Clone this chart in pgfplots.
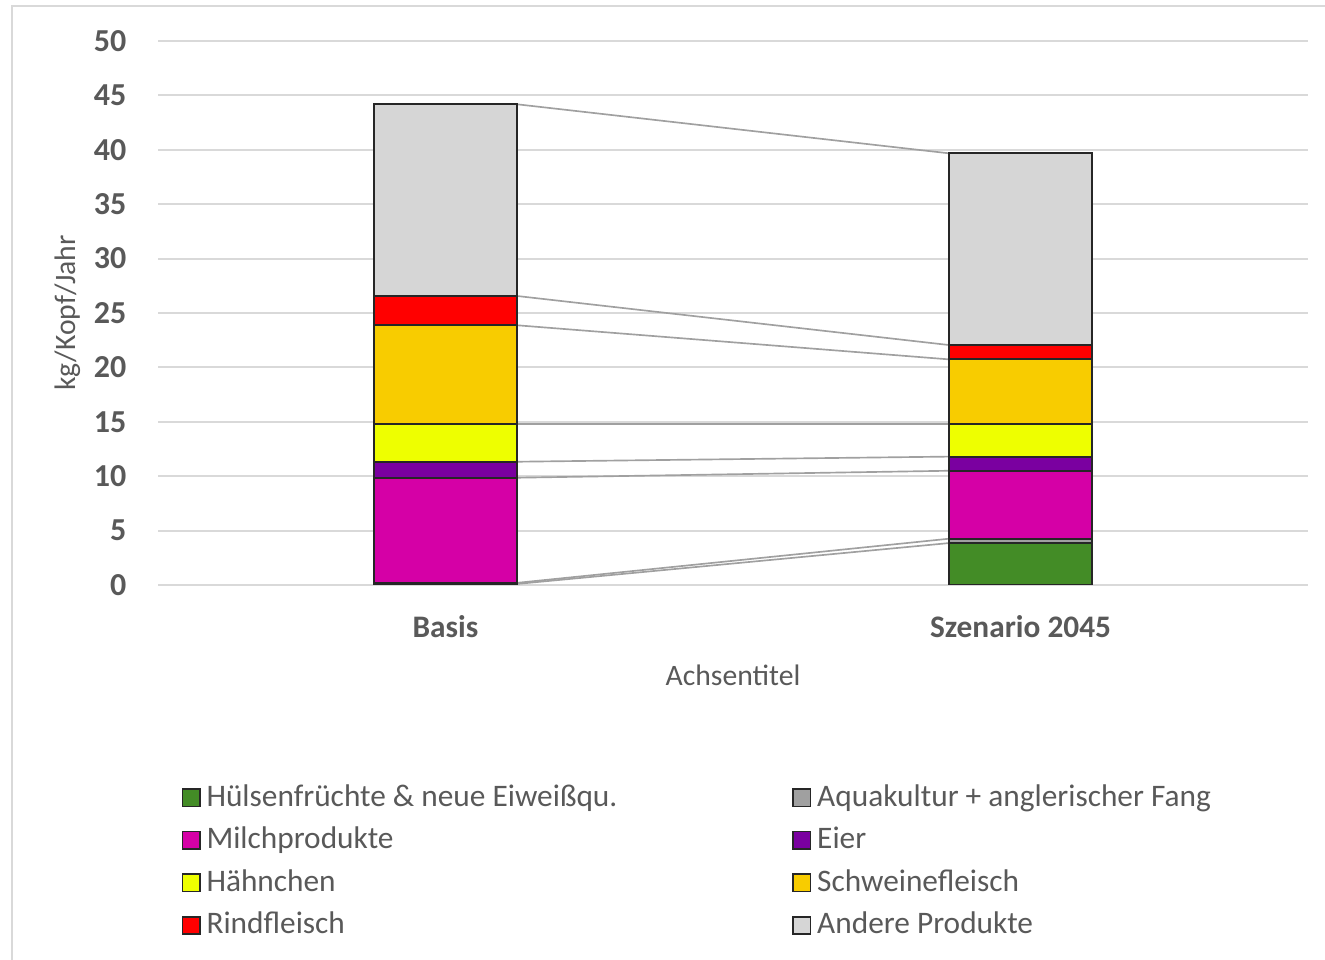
\documentclass[border=0pt]{standalone}
\usepackage{fontspec}
\setmainfont{Carlito}
\usepackage{pgfplots}
\pgfplotsset{compat=1.18}
\definecolor{txt}{HTML}{595959}
\definecolor{gridc}{HTML}{D9D9D9}
\definecolor{edge}{HTML}{262626}
\definecolor{conn}{HTML}{A0A0A0}
\definecolor{cHuel}{HTML}{438C26}
\definecolor{cAqua}{HTML}{A0A0A0}
\definecolor{cMilch}{HTML}{D500A6}
\definecolor{cEier}{HTML}{7A00A0}
\definecolor{cHaehn}{HTML}{EEFF00}
\definecolor{cSchw}{HTML}{F8CC00}
\definecolor{cRind}{HTML}{FF0000}
\definecolor{cAnd}{HTML}{D6D6D6}
\begin{document}
\begin{tikzpicture}[x=1pt,y=1pt]
\path[use as bounding box] (-47.4,-112.5) rectangle (350.1,175.5);
\draw[gridc, line width=0.5pt] (-43.8,-120) -- (-43.8,173.7) -- (360,173.7);
% grid and connecting lines
\begin{axis}[at={(0,0)}, anchor=south west, scale only axis,
  width=345pt, height=163.2pt, xmin=-0.5, xmax=1.5, ymin=0, ymax=50,
  ytick={0,5,...,50}, xtick=\empty, yticklabels={},
  ymajorgrids, grid style={color=gridc, line width=0.6pt},
  axis line style={draw=none}, major tick length=0pt, clip=false]
\addplot[conn, line width=0.5pt] coordinates {(0.125,0.1) (0.875,3.85)};
\addplot[conn, line width=0.5pt] coordinates {(0.125,0.2) (0.875,4.25)};
\addplot[conn, line width=0.5pt] coordinates {(0.125,9.86) (0.875,10.5)};
\addplot[conn, line width=0.5pt] coordinates {(0.125,11.33) (0.875,11.8)};
\addplot[conn, line width=0.5pt] coordinates {(0.125,14.8) (0.875,14.8)};
\addplot[conn, line width=0.5pt] coordinates {(0.125,23.87) (0.875,20.74)};
\addplot[conn, line width=0.5pt] coordinates {(0.125,26.56) (0.875,22.06)};
\addplot[conn, line width=0.5pt] coordinates {(0.125,44.18) (0.875,39.68)};
\end{axis}
% bars
\begin{axis}[at={(0,0)}, anchor=south west, scale only axis,
  width=345pt, height=163.2pt, xmin=-0.5, xmax=1.5, ymin=0, ymax=50,
  ybar stacked, bar width=0.25,
  xtick={0,1}, xticklabels={Basis, Szenario 2045},
  ytick={0,5,...,50},
  axis line style={draw=none}, major tick length=0pt,
  /pgf/number format/assume math mode=true,
  yticklabel style={font=\fontsize{9.6}{11}\selectfont\bfseries, text=txt, xshift=-6pt},
  xticklabel style={font=\fontsize{9.4}{11}\selectfont\bfseries, text=txt, yshift=-5.6pt},
  xlabel={Achsentitel}, ylabel={kg/Kopf/Jahr},
  label style={font=\fontsize{8.9}{11}\selectfont, text=txt},
  x label style={at={(axis description cs:0.5,-0.1654)}, anchor=center},
  y label style={at={(axis description cs:-0.0783,0.5)}, anchor=center},
  legend columns=2,
  legend cell align=left,
  legend image code/.code={\draw[#1, draw=edge, line width=0.45pt] (0pt,-2.6pt) rectangle (5.2pt,2.6pt);},
  legend style={at={(axis description cs:0.02,-0.356)}, anchor=north west,
    draw=none, fill=none, font=\fontsize{9.4}{11}\selectfont, text=txt,
    inner sep=0pt, row sep=1.75pt,
    /tikz/every odd column/.append style={column sep=0.3pt},
    /tikz/every even column/.append style={column sep=51pt},
    nodes={inner sep=1.5pt}},
]
\addplot[fill=cHuel, draw=edge, line width=0.6pt] coordinates {(0,0.1) (1,3.85)};
\addlegendentry{Hülsenfrüchte \& neue Eiweißqu.}
\addplot[fill=cAqua, draw=edge, line width=0.6pt] coordinates {(0,0.1) (1,0.4)};
\addlegendentry{Aquakultur + anglerischer Fang}
\addplot[fill=cMilch, draw=edge, line width=0.6pt] coordinates {(0,9.66) (1,6.25)};
\addlegendentry{Milchprodukte}
\addplot[fill=cEier, draw=edge, line width=0.6pt] coordinates {(0,1.47) (1,1.3)};
\addlegendentry{Eier}
\addplot[fill=cHaehn, draw=edge, line width=0.6pt] coordinates {(0,3.47) (1,3.0)};
\addlegendentry{Hähnchen}
\addplot[fill=cSchw, draw=edge, line width=0.6pt] coordinates {(0,9.07) (1,5.94)};
\addlegendentry{Schweinefleisch}
\addplot[fill=cRind, draw=edge, line width=0.6pt] coordinates {(0,2.69) (1,1.32)};
\addlegendentry{Rindfleisch}
\addplot[fill=cAnd, draw=edge, line width=0.6pt] coordinates {(0,17.62) (1,17.62)};
\addlegendentry{Andere Produkte}
\end{axis}
\end{tikzpicture}
\end{document}
